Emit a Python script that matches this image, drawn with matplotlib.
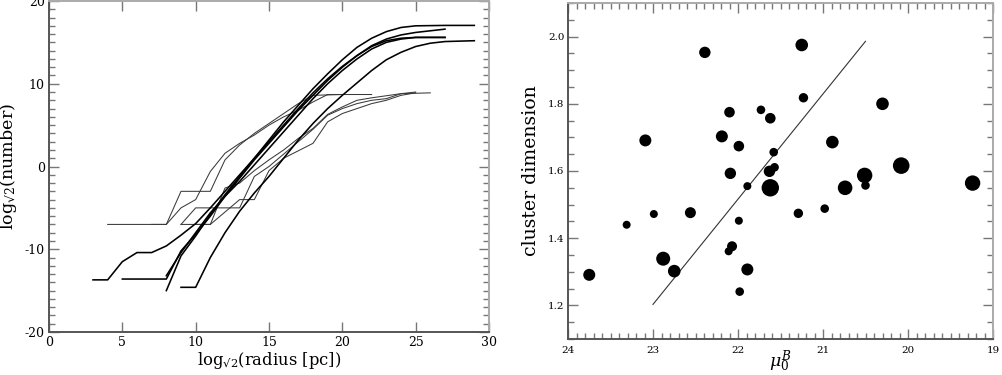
import matplotlib
matplotlib.use("Agg")
import matplotlib.pyplot as plt
from matplotlib.ticker import MultipleLocator, FixedLocator, FormatStrFormatter

plt.rcParams['font.family'] = ['DejaVu Serif']
plt.rcParams['mathtext.fontset'] = 'dejavuserif'
plt.rcParams['axes.unicode_minus'] = False

# ---------------- left panel data: log_sqrt2(radius) vs log_sqrt2(number) ----------------
thick_x = [
    [3, 4, 5, 6, 7, 8, 9, 10, 11, 12, 13, 14, 15, 16, 17, 18, 19, 20, 21, 22, 23, 24, 25, 27],
    [5, 8, 9, 10, 11, 12, 13, 14, 15, 16, 17, 18, 19, 20, 21, 22, 23, 24, 25, 27],
    [8, 9, 10, 11, 12, 13, 14, 15, 16, 17, 18, 19, 20, 21, 22, 23, 24, 25, 27, 29],
    [8, 9, 10, 11, 12, 13, 14, 15, 16, 17, 18, 19, 20, 21, 22, 23, 24, 25, 27],
    [9, 10, 11, 12, 13, 14, 15, 16, 17, 18, 19, 20, 21, 22, 23, 24, 25, 26, 27, 29],
]
thick_y = [
    [-13.7, -13.7, -11.5, -10.4, -10.4, -9.6, -8.3, -6.9, -5.0, -3.0, -1.0, 1.0, 3.0, 5.0, 7.0, 8.9, 10.6, 12.1, 13.4, 14.5, 15.2, 15.5, 15.6, 15.6],
    [-13.6, -13.6, -10.2, -8.2, -6.0, -3.6, -1.4, 0.8, 2.8, 4.8, 6.8, 8.6, 10.4, 12.0, 13.4, 14.6, 15.4, 15.9, 16.2, 16.6],
    [-15.0, -10.8, -8.4, -5.8, -3.4, -1.2, 1.0, 3.2, 5.4, 7.4, 9.4, 11.2, 12.9, 14.4, 15.5, 16.3, 16.8, 17.0, 17.05, 17.05],
    [-13.2, -10.4, -8.0, -5.6, -3.6, -1.8, 0.2, 2.2, 4.2, 6.2, 8.2, 10.0, 11.6, 13.0, 14.2, 15.0, 15.4, 15.6, 15.6],
    [-14.6, -14.6, -11.0, -8.0, -5.4, -3.2, -1.2, 1.0, 3.2, 5.2, 7.0, 8.6, 10.1, 11.6, 12.9, 13.8, 14.5, 14.9, 15.1, 15.2],
]
thin_x = [
    [4, 8, 9, 11, 12, 13, 14, 15, 16, 17, 18, 20],
    [7, 8, 9, 10, 11, 12, 13, 14, 15, 16, 17, 18, 19, 22],
    [9, 11, 12, 13, 14, 15, 16, 17, 18, 19, 20, 21, 22, 23, 24, 25],
    [9, 10, 13, 14, 15, 16, 17, 18, 19, 20, 21, 22, 23, 24, 25],
    [10, 11, 12, 13, 14, 15, 16, 17, 18, 19, 20, 21, 22, 24, 26],
]
thin_y = [
    [-7, -7, -3, -3, 0.8, 2.6, 4.0, 5.2, 6.4, 7.6, 8.6, 8.7],
    [-7, -7, -5, -4, -0.6, 1.6, 2.8, 3.8, 5.0, 6.0, 6.8, 7.8, 8.7, 8.7],
    [-7, -7, -5.5, -4, -4, -0.5, 1.0, 1.9, 2.8, 5.4, 6.4, 7.0, 7.6, 8.0, 8.6, 8.9],
    [-7, -5, -5, -1.2, 0.0, 1.5, 3.0, 4.5, 6.2, 7.0, 7.6, 8.0, 8.2, 8.8, 9.0],
    [-7, -7, -2.6, -2.0, -0.5, 0.8, 2.0, 3.4, 4.6, 6.3, 7.2, 8.0, 8.3, 8.8, 8.9],
]

# ---------------- right panel data: mu_0^B vs cluster dimension ----------------
mu0 = [23.75, 23.31, 22.99, 23.09, 22.88, 22.75, 22.56, 22.39, 22.19, 22.10,
       22.09, 21.99, 22.07, 22.11, 21.99, 21.89, 21.89, 21.98, 21.73, 21.62,
       21.58, 21.57, 21.63, 21.62, 21.25, 21.23, 21.29, 20.98, 20.89, 20.74,
       20.51, 20.50, 20.30, 20.08, 19.24]
dim = [1.291, 1.440, 1.472, 1.691, 1.339, 1.302, 1.476, 1.953, 1.703, 1.775,
       1.593, 1.674, 1.376, 1.361, 1.452, 1.555, 1.307, 1.241, 1.782, 1.757,
       1.656, 1.611, 1.599, 1.550, 1.975, 1.818, 1.474, 1.488, 1.686, 1.550,
       1.587, 1.557, 1.800, 1.616, 1.564]
radius = [6.0, 4.0, 4.0, 6.0, 7.0, 6.3, 5.5, 5.7, 6.0, 5.3,
          5.7, 5.3, 5.0, 4.0, 4.0, 4.0, 6.0, 4.3, 4.3, 5.3,
          4.3, 4.3, 5.7, 8.7, 6.3, 4.7, 4.7, 4.3, 6.3, 7.3,
          7.7, 4.3, 6.3, 8.3, 7.7]
fit_x = [23.0, 20.5]
fit_y = [1.203, 1.986]

fig = plt.figure(figsize=(10.02, 3.75), dpi=100)

def style(ax, size, xpad, ypad):
    for s in ['left', 'bottom']:
        ax.spines[s].set_color('#555555')
        ax.spines[s].set_linewidth(1.4)
    for s in ['top', 'right']:
        ax.spines[s].set_color('#aaaaaa')
        ax.spines[s].set_linewidth(1.4)
    ax.tick_params(which='both', direction='in', top=True, right=True,
                   color='#777777', labelsize=size, labelcolor='black')
    ax.tick_params(which='major', length=7, width=1.0)
    ax.tick_params(which='minor', length=4, width=1.0)
    ax.tick_params(axis='x', pad=xpad)
    ax.tick_params(axis='y', pad=ypad)

# left
ax1 = fig.add_axes([49/1002, 1-332/375, (489-49)/1002, 331/375])
for xs, ys in zip(thin_x, thin_y):
    ax1.plot(xs, ys, color='#3a3a3a', lw=0.75)
for xs, ys in zip(thick_x, thick_y):
    ax1.plot(xs, ys, color='black', lw=1.15)
ax1.set_xlim(0, 30)
ax1.set_ylim(-20, 20)
ax1.xaxis.set_major_locator(MultipleLocator(5))
ax1.yaxis.set_major_locator(MultipleLocator(10))
ax1.yaxis.set_minor_locator(MultipleLocator(1))
style(ax1, 9.0, 3, 3)
ax1.set_xlabel(r'log$_{\mathregular{√2}}$(radius [pc])', fontsize=11.8)
ax1.set_ylabel(r'log$_{\mathregular{√2}}$(number)', fontsize=12.6)
ax1.xaxis.set_label_coords(0.5, -(365 - 332) / 331)
ax1.xaxis.label.set_verticalalignment('baseline')
ax1.yaxis.set_label_coords(-40/440, 0.5)
ax1.yaxis.label.set_verticalalignment('center')

# right
ax2 = fig.add_axes([568/1002, 1-339/375, (993-568)/1002, 336/375])
ax2.scatter(mu0, dim, s=[(2*r*0.72)**2 for r in radius], color='black', edgecolors='none', zorder=3)
ax2.plot(fit_x, fit_y, color='#333333', lw=0.8)
ax2.set_xlim(24, 19)
ax2.set_ylim(1.1, 2.1)
ax2.xaxis.set_major_locator(MultipleLocator(1))
ax2.xaxis.set_minor_locator(MultipleLocator(0.1))
ax2.yaxis.set_major_locator(FixedLocator([1.2, 1.4, 1.6, 1.8, 2.0]))
ax2.yaxis.set_minor_locator(MultipleLocator(0.05))
ax2.yaxis.set_major_formatter(FormatStrFormatter('%.1f'))
style(ax2, 7.4, 5, 2.5)
ax2.set_xlabel(r'$\mu_0^B$', fontsize=12.5)
ax2.set_ylabel('cluster dimension', fontsize=13.6)
ax2.xaxis.set_label_coords((780 - 568) / 425, -(367 - 339) / 336)
ax2.xaxis.label.set_verticalalignment('baseline')
ax2.yaxis.set_label_coords(-(568 - 530.5) / 425, 0.5)
ax2.yaxis.label.set_verticalalignment('center')

fig.savefig('out.png', dpi=100)
